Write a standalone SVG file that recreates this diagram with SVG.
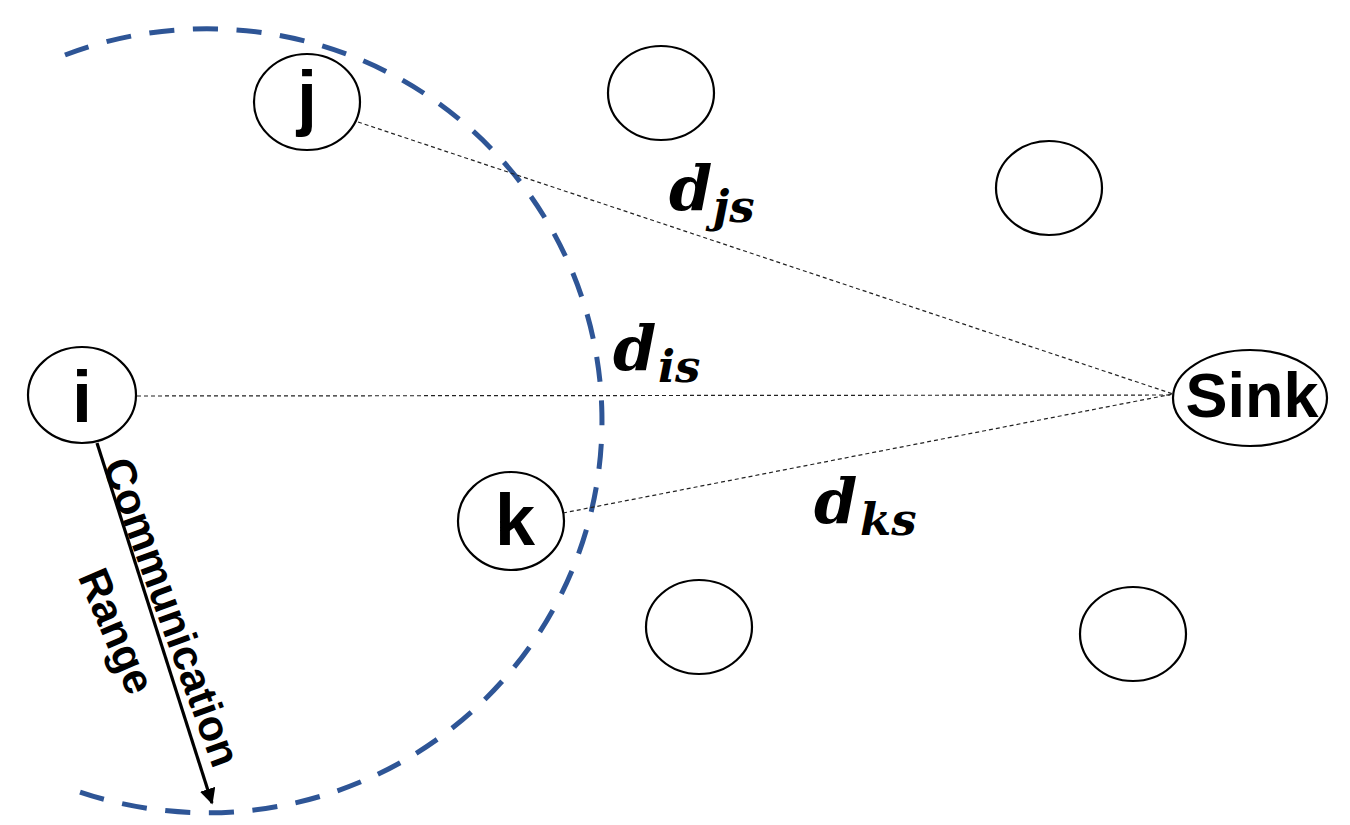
<svg xmlns="http://www.w3.org/2000/svg" width="1350" height="825" viewBox="0 0 1350 825">
<style>
.node{fill:#fff;stroke:#000;stroke-width:2.2}
.lbl{font-family:"Liberation Sans",Arial,sans-serif;font-weight:bold;fill:#000;text-anchor:middle}
.dist{stroke:#222;stroke-width:1.2;stroke-dasharray:4 3;fill:none}
.math{font-family:"DejaVu Serif","Liberation Serif",serif;font-weight:bold;font-style:italic;fill:#000}
.sub{font-size:45px}
.rng{font-family:"Liberation Sans",Arial,sans-serif;font-weight:bold;font-size:43px;fill:#000;text-anchor:middle}
</style>
<defs>
<marker id="ah" viewBox="0 0 10 10" refX="9" refY="5" markerWidth="5" markerHeight="5" orient="auto" markerUnits="strokeWidth">
<path d="M0,0 L10,5 L0,10 z" fill="#000"/>
</marker>
</defs>
<rect width="1350" height="825" fill="#fff"/>
<path id="range" d="M 65 55 A 395 392 0 1 1 80 792" fill="none" stroke="#2E5596" stroke-width="5" pathLength="1502" stroke-dasharray="25 18.44"/>
<g id="connectors">
<line class="dist" x1="358" y1="122" x2="1173" y2="394"/>
<line class="dist" x1="137" y1="396" x2="1173" y2="395"/>
<line class="dist" x1="563" y1="513" x2="1173" y2="394"/>
<line x1="97" y1="443" x2="212" y2="803" stroke="#000" stroke-width="3.2" marker-end="url(#ah)"/>
</g>
<g id="node-j"><ellipse class="node" cx="307" cy="102" rx="53" ry="48"/><text class="lbl" x="307" y="122" font-size="72">j</text></g>
<g id="node-i"><ellipse class="node" cx="82" cy="395" rx="54" ry="48"/><text class="lbl" x="82" y="422" font-size="72">i</text></g>
<g id="node-k"><ellipse class="node" cx="511" cy="521" rx="53" ry="49"/><text class="lbl" x="515" y="545" font-size="72">k</text></g>
<g id="node-sink"><ellipse class="node" cx="1250" cy="398" rx="77" ry="48"/><text class="lbl" x="1252" y="417" font-size="63">Sink</text></g>
<g id="node-a"><ellipse class="node" cx="661" cy="93" rx="53" ry="47"/></g>
<g id="node-b"><ellipse class="node" cx="1049" cy="188" rx="53" ry="47"/></g>
<g id="node-c"><ellipse class="node" cx="699" cy="627" rx="53" ry="47"/></g>
<g id="node-d"><ellipse class="node" cx="1133" cy="634" rx="53" ry="47"/></g>
<g id="labels">
<text class="math" x="669" y="210" font-size="62">d</text><text class="math sub" x="713" y="222">js</text>
<text class="math" x="613" y="370" font-size="62">d</text><text class="math sub" x="658" y="382">is</text>
<text class="math" x="814" y="523" font-size="62">d</text><text class="math sub" x="860" y="535">ks</text>
<text class="rng" transform="translate(172,612) rotate(70)" y="15">Communication</text>
<text class="rng" transform="translate(117,631) rotate(67)" y="15">Range</text>
</g>
</svg>
